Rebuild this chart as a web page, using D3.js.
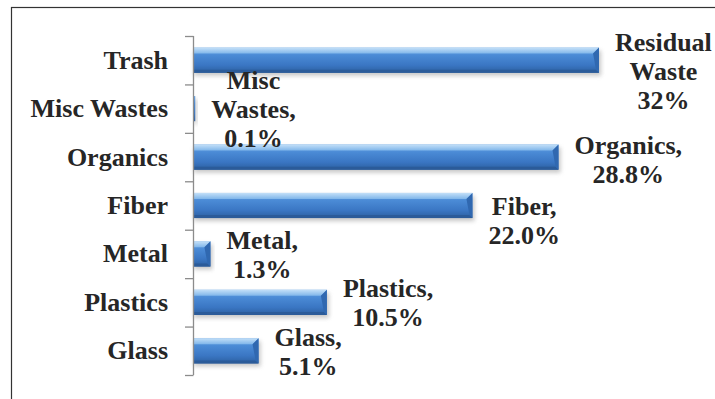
<!DOCTYPE html>
<html>
<head>
<meta charset="utf-8">
<script src="https://cdn.jsdelivr.net/npm/d3@7"></script>
<style>
  html, body { margin: 0; padding: 0; background: #fff; }
  svg { display: block; }
  text { font-family: "Liberation Serif", "Times New Roman", serif; font-weight: bold; fill: #262626; }
</style>
</head>
<body>
<svg id="chart" width="715" height="399"></svg>
<script>
// Waste composition, top to bottom
const categories = ["Trash", "Misc Wastes", "Organics", "Fiber", "Metal", "Plastics", "Glass"];
const shares = [32, 0.1, 28.8, 22.0, 1.3, 10.5, 5.1];
const labelLines = [["Residual", "Waste"], ["Misc", "Wastes,"], ["Organics,"], ["Fiber,"], ["Metal,"], ["Plastics,"], ["Glass,"]];
const labelDecimals = [0, 1, 1, 1, 1, 1, 1];

const W = 715, H = 399;
const svg = d3.select("#chart");
const defs = svg.append("defs");

// frame around the chart (runs past the right and bottom edges)
svg.append("rect")
  .attr("x", 11.5).attr("y", 7.5)
  .attr("width", W + 20).attr("height", H + 20)
  .attr("fill", "none").attr("stroke", "#333").attr("stroke-width", 1.2);

const plotTop = 36, plotBottom = 375, axisX = 193;
const fontSize = 26;

const y = d3.scaleBand().domain(categories).range([plotTop, plotBottom]).padding(0);
const x = d3.scaleLinear().domain([0, 35]).range([axisX, 636]);
const barH = y.bandwidth() * 0.52;

// gradients for the bevelled bars
const body = defs.append("linearGradient").attr("id", "barBody")
  .attr("x1", 0).attr("y1", 0).attr("x2", 0).attr("y2", 1);
[["0%", "#6ea6e2"], ["30%", "#4b8bd6"], ["70%", "#3a76c3"], ["100%", "#2c5f9f"]]
  .forEach(([o, c]) => body.append("stop").attr("offset", o).attr("stop-color", c));
const topFace = defs.append("linearGradient").attr("id", "barTop")
  .attr("x1", 0).attr("y1", 0).attr("x2", 0).attr("y2", 1);
[["0%", "#c4e0f8"], ["100%", "#80b6ea"]]
  .forEach(([o, c]) => topFace.append("stop").attr("offset", o).attr("stop-color", c));

const blur = defs.append("filter").attr("id", "shadow")
  .attr("x", "-10%").attr("y", "-50%").attr("width", "120%").attr("height", "200%");
blur.append("feGaussianBlur").attr("stdDeviation", 2);

// category labels
svg.append("g").selectAll("text").data(categories).join("text")
  .attr("x", 168)
  .attr("y", d => y(d) + y.bandwidth() / 2 + 8.5)
  .attr("text-anchor", "end")
  .attr("font-size", fontSize)
  .text(d => d);

// bars
const rows = categories.map((c, i) => ({ cat: c, v: shares[i], i }));
const bars = svg.append("g").selectAll("g").data(rows).join("g")
  .attr("transform", d => `translate(0,${y(d.cat) + (y.bandwidth() - barH) / 2})`);

bars.append("rect")
  .attr("x", axisX + 1).attr("y", 3)
  .attr("width", d => Math.max(0, x(d.v) - axisX) + 2).attr("height", barH)
  .attr("fill", "#9a9a9a").attr("opacity", 0.55)
  .attr("filter", "url(#shadow)");

bars.append("rect")
  .attr("x", axisX + 1).attr("y", 0)
  .attr("width", d => Math.max(0, x(d.v) - axisX))
  .attr("height", barH)
  .attr("fill", "url(#barBody)");

const bev = 6;
bars.each(function (d) {
  const g = d3.select(this);
  const x0 = axisX + 1, x1 = axisX + 1 + Math.max(0, x(d.v) - axisX);
  const w = x1 - x0;
  if (w < 4) return;
  const b = Math.min(bev, w / 2);
  g.append("polygon")
    .attr("points", [[x0, 0], [x1, 0], [x1 - b, b], [x0, b]].join(" "))
    .attr("fill", "url(#barTop)");
  g.append("polygon")
    .attr("points", [[x0, barH - 3], [x1 - 3, barH - 3], [x1, barH], [x0, barH]].join(" "))
    .attr("fill", "#2b5b99");
  g.append("polygon")
    .attr("points", [[x1, 0], [x1, barH], [x1 - 3, barH - 3], [x1 - b, b]].join(" "))
    .attr("fill", "#3068b0");
});

// axis line with ticks at the category boundaries
const axis = svg.append("g");
axis.append("line")
  .attr("x1", axisX + 0.5).attr("x2", axisX + 0.5)
  .attr("y1", plotTop).attr("y2", plotBottom)
  .attr("stroke", "#8c8c8c").attr("stroke-width", 1.3);
const boundaries = categories.map(c => y(c)).concat([plotBottom]);
axis.selectAll("line.tick").data(boundaries).join("line")
  .attr("class", "tick")
  .attr("x1", axisX - 8).attr("x2", axisX + 0.5)
  .attr("y1", d => d + 0.5).attr("y2", d => d + 0.5)
  .attr("stroke", "#8c8c8c").attr("stroke-width", 1.3);

// data labels: centred block, placed just past the end of each bar
const labelNudge = [11, 1, 3, 15, 1, 1, 1];
const lineGap = 29;
const labels = svg.append("g").selectAll("text").data(rows).join("text")
  .attr("font-size", fontSize)
  .attr("text-anchor", "middle");

labels.each(function (d) {
  const t = d3.select(this);
  const valueText = d3.format(`.${labelDecimals[d.i]}f`)(d.v) + "%";
  const lines = labelLines[d.i].concat([valueText]);
  const cy = y(d.cat) + y.bandwidth() / 2 + labelNudge[d.i];
  const n = lines.length;
  lines.forEach((s, k) => {
    t.append("tspan").text(s)
      .attr("y", cy + (k - (n - 1) / 2) * lineGap + 8.5);
  });
  let maxW = 0;
  t.selectAll("tspan").each(function () { maxW = Math.max(maxW, this.getComputedTextLength()); });
  const left = x(d.v) + 1 + 16;
  t.selectAll("tspan").attr("x", left + maxW / 2);
});
</script>
</body>
</html>
